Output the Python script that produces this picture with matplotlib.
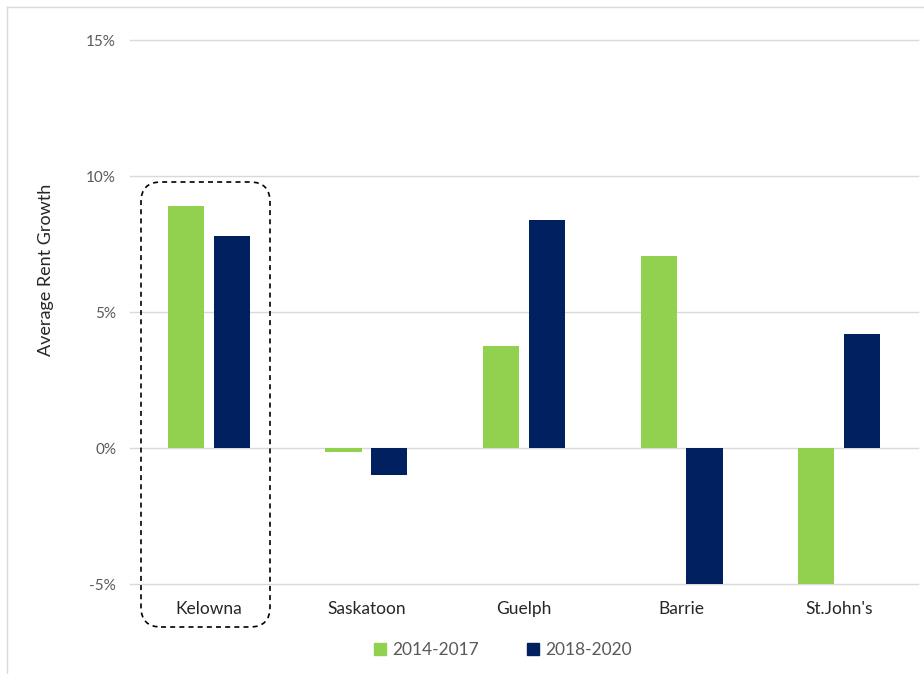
import matplotlib
matplotlib.use("Agg")
import matplotlib.pyplot as plt
import numpy as np
from matplotlib.patches import FancyBboxPatch
from matplotlib.lines import Line2D
from matplotlib.transforms import IdentityTransform
from matplotlib.ticker import FuncFormatter

cities = ["Kelowna", "Saskatoon", "Guelph", "Barrie", "St.John's"]
growth_2014_2017 = [8.9, -0.15, 3.75, 7.05, -5.0]
growth_2018_2020 = [7.8, -1.0, 8.4, -5.0, 4.2]
series_names = ["2014-2017", "2018-2020"]
green = "#92d050"
navy = "#002060"
yticks = [-5, 0, 5, 10, 15]

plt.rcParams["font.family"] = ["Lato", "DejaVu Sans"]

fig = plt.figure(figsize=(9.24, 6.74), dpi=100)
ax = fig.add_axes([130 / 924, 1 - 584 / 674, 788 / 924, 544 / 674])

x = np.arange(len(cities))
w = 0.23
off = 0.145
ax.bar(x - off, growth_2014_2017, width=w, color=green, zorder=3, label=series_names[0])
ax.bar(x + off, growth_2018_2020, width=w, color=navy, zorder=3, label=series_names[1])

ax.set_xlim(-0.5, len(cities) - 0.5)
ax.set_ylim(-5, 15)
ax.set_yticks(yticks)
ax.yaxis.set_major_formatter(FuncFormatter(lambda v, p: f"{v:.0f}%"))
ax.grid(axis="y", color="#d9d9d9", linewidth=1.0, zorder=0)
for gl in ax.get_ygridlines():
    gl.set_clip_on(False)
for s in ax.spines.values():
    s.set_visible(False)
ax.tick_params(axis="y", length=0, pad=10, labelsize=11, labelcolor="#595959")
ax.tick_params(axis="x", length=0, pad=12, labelsize=12.5, labelcolor="#262626")
ax.set_xticks(x)
ax.set_xticklabels(cities)
ax.set_ylabel("Average Rent Growth", fontsize=13, color="#262626")
ax.yaxis.set_label_coords(-0.097, 0.577)

# highlight box around Kelowna
box = FancyBboxPatch((141, 674 - 627), 129, 445,
                     boxstyle="round,pad=0,rounding_size=20",
                     transform=IdentityTransform(), fill=False,
                     edgecolor="black", linewidth=1.2, linestyle=(0, (3, 2.5)))
fig.patches.append(box)

# chart border (top and left edges)
fig.lines.append(Line2D([7, 924], [667, 667], transform=IdentityTransform(),
                        color="#d9d9d9", linewidth=1))
fig.lines.append(Line2D([7, 7], [0, 667], transform=IdentityTransform(),
                        color="#d9d9d9", linewidth=1))

handles = [Line2D([], [], marker="s", linestyle="none", markersize=9,
                  markerfacecolor=c, markeredgecolor=c) for c in (green, navy)]
fig.legend(handles, series_names, loc="center", bbox_to_anchor=(0.543, 1 - 650 / 674),
           ncol=2, frameon=False, fontsize=12.5, labelcolor="#595959",
           handletextpad=0.2, columnspacing=2.6, handlelength=1.0)

fig.savefig("out.png", dpi=100)
